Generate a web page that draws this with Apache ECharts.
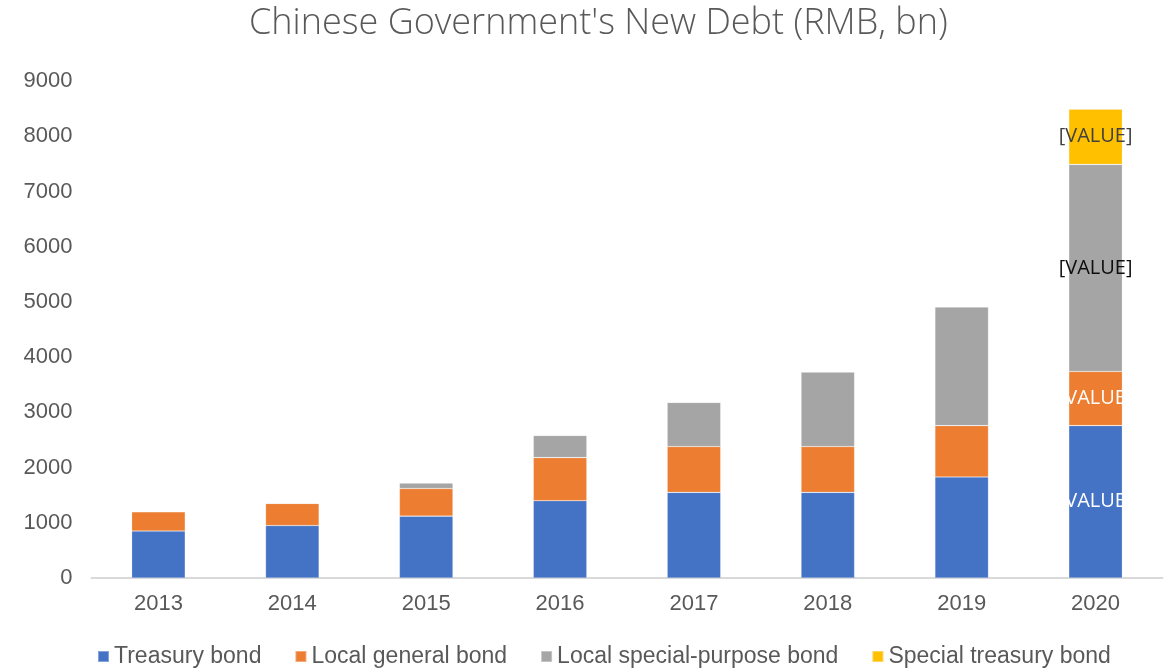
<!DOCTYPE html>
<html>
<head>
<meta charset="utf-8">
<script src="https://cdn.jsdelivr.net/npm/echarts@6/dist/echarts.min.js"></script>
<style>
  html, body { margin: 0; padding: 0; background: #ffffff; }
  #chart { width: 1171px; height: 668px; }
</style>
</head>
<body>
<div id="chart"></div>
<script>
// Yearly new government debt, RMB bn
const years = ['2013', '2014', '2015', '2016', '2017', '2018', '2019', '2020'];
const treasuryBond = [850, 950, 1120, 1400, 1550, 1550, 1830, 2760];
const localGeneralBond = [350, 400, 500, 780, 830, 830, 930, 980];
const localSpecialBond = [0, 0, 100, 400, 800, 1350, 2150, 3750];
const specialTreasuryBond = [0, 0, 0, 0, 0, 0, 0, 1000];
const yTicks = [0, 1000, 2000, 3000, 4000, 5000, 6000, 7000, 8000, 9000];

const FONT = '"Liberation Sans", Arial, sans-serif';
const TEXT = '#595959';
const lastIdx = years.length - 1;

// Only the 2020 column carries placeholder data labels
function withLastLabel(values, color) {
  return values.map((v, i) => {
    if (i !== lastIdx) return v;
    return {
      value: v,
      label: {
        show: true,
        position: 'inside',
        formatter: '[VALUE]',
        color: color,
        fontFamily: '"Open Sans", "Liberation Sans", sans-serif',
        fontSize: 20
      }
    };
  });
}

function barSeries(name, values, color, labelColor) {
  return {
    name: name,
    type: 'bar',
    stack: 'debt',
    barWidth: '40%',
    data: withLastLabel(values, labelColor),
    itemStyle: { color: color, borderColor: 'rgba(255,255,255,0.35)', borderWidth: 0.6 },
    emphasis: { disabled: true },
    label: { show: false }
  };
}

const chart = echarts.init(document.getElementById('chart'), null, { renderer: 'canvas' });
chart.setOption({
  animation: false,
  backgroundColor: '#ffffff',
  title: {
    text: "Chinese Government's New Debt (RMB, bn)",
    left: 244,
    top: 1,
    textStyle: {
      fontFamily: '"Open Sans", sans-serif',
      fontWeight: 300,
      fontSize: 36,
      color: TEXT
    }
  },
  legend: {
    top: 640,
    left: 92,
    itemWidth: 11,
    itemHeight: 11,
    itemGap: 33,
    icon: 'rect',
    textStyle: { fontFamily: FONT, fontSize: 23, color: TEXT },
    data: ['Treasury bond', 'Local general bond', 'Local special-purpose bond', 'Special treasury bond']
  },
  grid: { left: 91.5, right: 8.5, top: 81, bottom: 90, containLabel: false },
  xAxis: {
    type: 'category',
    data: years,
    axisLine: { lineStyle: { color: '#d9d9d9', width: 2 } },
    axisTick: { show: false },
    axisLabel: { fontFamily: FONT, fontSize: 22, color: TEXT, margin: 15 }
  },
  yAxis: {
    type: 'value',
    min: yTicks[0],
    max: yTicks[yTicks.length - 1],
    interval: yTicks[1] - yTicks[0],
    splitLine: { show: false },
    axisLine: { show: false },
    axisTick: { show: false },
    axisLabel: {
      fontFamily: FONT,
      fontSize: 22,
      color: TEXT,
      margin: 19,
      formatter: (v) => String(v)
    }
  },
  series: [
    barSeries('Treasury bond', treasuryBond, '#4472C4', '#ffffff'),
    barSeries('Local general bond', localGeneralBond, '#ED7D31', '#ffffff'),
    barSeries('Local special-purpose bond', localSpecialBond, '#A5A5A5', '#0d0d0d'),
    barSeries('Special treasury bond', specialTreasuryBond, '#FFC000', '#404040')
  ]
});
</script>
</body>
</html>
